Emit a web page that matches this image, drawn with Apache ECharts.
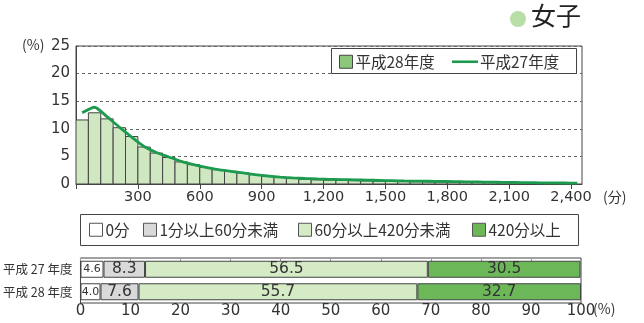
<!DOCTYPE html>
<html><head><meta charset="utf-8">
<script src="https://cdn.jsdelivr.net/npm/echarts@6/dist/echarts.min.js"></script>
<style>html,body{margin:0;padding:0;background:#fff}#c{width:644px;height:323px}</style>
</head><body><div id="c"></div>
<script>
// ---- data ----
const binMinutes = 60;
const xTicks = [0, 300, 600, 900, 1200, 1500, 1800, 2100, 2400];
const h28Bars = [11.6, 12.9, 11.8, 10.2, 8.6, 6.7, 5.6, 4.8, 4.0, 3.5,
  3.0, 2.6, 2.3, 2.0, 1.7, 1.4, 1.2, 1.0, 0.85, 0.75,
  0.7, 0.65, 0.6, 0.55, 0.5, 0.47, 0.44, 0.41, 0.38, 0.35,
  0.32, 0.3, 0.28, 0.26, 0.24, 0.22, 0.2, 0.18, 0.16, 0.14];
const h27Line = [12.9, 13.9, 12.2, 10.3, 8.5, 6.8, 5.7, 4.9, 4.1, 3.5,
  3.0, 2.6, 2.3, 2.0, 1.7, 1.45, 1.25, 1.1, 1.0, 0.92,
  0.85, 0.8, 0.75, 0.7, 0.65, 0.6, 0.55, 0.52, 0.5, 0.47,
  0.43, 0.4, 0.37, 0.34, 0.3, 0.28, 0.25, 0.22, 0.2, 0.18, 0.15];
const yTicks = [0, 5, 10, 15, 20, 25];
const years = ['平成 27 年度', '平成 28 年度'];
const catNames = ['0分', '1分以上60分未満', '60分以上420分未満', '420分以上'];
const zeroMin = [4.6, 4.0];
const under60 = [8.3, 7.6];
const from60to420 = [56.5, 55.7];
const over420 = [30.5, 32.7];

// ---- styles ----
const FONT = '"DejaVu Sans", "Noto Sans CJK JP", sans-serif';
const CJK = '"Noto Sans CJK JP", "Noto Sans", sans-serif';
const TXT = '#333';
const barFill = '#d0e8c2';
const lineColor = '#1c9a4e';
const stackColors = ['#ffffff', '#d9d9d9', '#d4ebc6', '#6cb859'];
const legendLefts = [89, 143, 298, 472];

const barData = h28Bars.map((v, i) => [i * binMinutes, (i + 1) * binMinutes, v]);
const lineData = h27Line.map((v, i) => [i * binMinutes + binMinutes / 2, v]);
const stackVals = [zeroMin, under60, from60to420, over420];

const chart = echarts.init(document.getElementById('c'), null, {renderer: 'canvas'});
const option = {
  animation: false,
  textStyle: {fontFamily: FONT},
  grid: [
    {left: 76, top: 46, width: 506, height: 138, show: true, borderColor: '#444', borderWidth: 1, backgroundColor: 'transparent'},
    {left: 80, top: 258, width: 501, height: 45, show: true, borderColor: '#444', borderWidth: 1}
  ],
  xAxis: [
    {type: 'value', gridIndex: 0, min: 0, max: 2453, interval: 300,
      axisLine: {show: true, lineStyle: {color: '#444'}},
      axisTick: {show: true, length: 5, lineStyle: {color: '#444'}},
      splitLine: {show: false},
      axisLabel: {fontSize: 14.5, color: TXT, margin: 6, fontFamily: FONT,
        formatter: v => (v === 0 ? '' : v.toLocaleString('en-US')),
        showMaxLabel: false}},
    {type: 'value', gridIndex: 1, min: 0, max: 100, interval: 10,
      axisLine: {show: false}, axisTick: {show: false}, splitLine: {show: false},
      axisLabel: {fontSize: 15, color: TXT, margin: 1, fontFamily: FONT}},
    {type: 'value', gridIndex: 1, position: 'top', min: 0, max: 100, interval: 10,
      axisLine: {show: false}, axisLabel: {show: false}, splitLine: {show: false},
      axisTick: {show: true, inside: true, length: 3, lineStyle: {color: '#999'}}}
  ],
  yAxis: [
    {type: 'value', gridIndex: 0, min: 0, max: 25, interval: 5,
      axisLine: {show: true, lineStyle: {color: '#444'}},
      axisTick: {show: false},
      splitLine: {show: true, lineStyle: {color: '#666', type: [3, 3], width: 1}},
      axisLabel: {fontSize: 15, color: TXT, margin: 6, fontFamily: FONT}},
    {type: 'category', gridIndex: 1, data: years, inverse: true,
      axisLine: {show: false}, axisTick: {show: false},
      axisLabel: {fontSize: 12.5, color: TXT, margin: 8, fontFamily: CJK}}
  ],
  legend: [
    {left: 339, top: 54, padding: 0, itemWidth: 13, itemHeight: 13, z: 10,
      textStyle: {fontSize: 15.5, color: TXT, fontFamily: CJK, padding: [0, 0, 0, -2]},
      data: [{name: '平成28年度', icon: 'rect', itemStyle: {color: '#8dc77b', borderColor: '#444', borderWidth: 1}}]},
    {left: 452, top: 54, padding: 0, itemWidth: 26, itemHeight: 13, z: 10,
      textStyle: {fontSize: 15.5, color: TXT, fontFamily: CJK, padding: [0, 0, 0, -3]},
      data: [{name: '平成27年度', icon: 'path://M0,0h26v2.6h-26z', itemStyle: {color: lineColor}}]}
  ].concat(catNames.map((n, i) => ({
    left: legendLefts[i], top: 222, padding: 0, itemWidth: 13, itemHeight: 13,
    textStyle: {fontSize: 15.5, color: TXT, fontFamily: CJK, padding: [0, 0, 0, -2]},
    data: [{name: n, icon: 'rect', itemStyle: {color: stackColors[i], borderColor: '#555', borderWidth: 1}}]
  }))),
  series: [
    {name: '平成28年度', type: 'custom', xAxisIndex: 0, yAxisIndex: 0, clip: true,
      encode: {x: [0, 1], y: 2},
      data: barData,
      renderItem: function (params, api) {
        const p0 = api.coord([api.value(0), 0]);
        const p1 = api.coord([api.value(1), api.value(2)]);
        return {type: 'rect',
          shape: {x: p0[0], y: p1[1], width: p1[0] - p0[0], height: p0[1] - p1[1]},
          style: {fill: barFill, stroke: '#444', lineWidth: 1}};
      }, z: 2},
    {name: '平成27年度', type: 'line', xAxisIndex: 0, yAxisIndex: 0, data: lineData,
      symbol: 'none', smooth: 0.2, lineStyle: {color: lineColor, width: 2.8}, itemStyle: {color: lineColor}, z: 3}
  ].concat(catNames.map((n, i) => ({
    name: n, type: 'bar', stack: 'total', xAxisIndex: 1, yAxisIndex: 1, barWidth: 17,
    data: stackVals[i],
    itemStyle: {color: stackColors[i], borderColor: '#444', borderWidth: 1},
    label: {show: true, position: 'inside', color: TXT, fontFamily: FONT,
      fontSize: i === 0 ? 11 : 15.5,
      formatter: p => Number(p.value).toFixed(1)}
  }))),
  graphic: [
    {type: 'rect', z: 5, shape: {x: 331.5, y: 48.5, width: 245, height: 25}, style: {fill: '#fff', stroke: '#444', lineWidth: 1}},
    {type: 'rect', shape: {x: 80.5, y: 214.5, width: 498, height: 31}, style: {fill: 'none', stroke: '#444', lineWidth: 1}},
    {type: 'text', left: 22, top: 38, style: {text: '(%)', fontSize: 14, fill: TXT, fontFamily: CJK}},
    {type: 'text', left: 603, top: 190, style: {text: '(分)', fontSize: 14, fill: TXT, fontFamily: CJK}},
    {type: 'text', left: 593, top: 302, style: {text: '(%)', fontSize: 14, fill: TXT, fontFamily: CJK}},
    {type: 'circle', shape: {cx: 518, cy: 19, r: 8}, style: {fill: '#b6dea6'}},
    {type: 'text', left: 531, top: 3, style: {text: '女子', fontSize: 25, fill: '#222', fontFamily: CJK}}
  ]
};
chart.setOption(option);
</script>
</body></html>
